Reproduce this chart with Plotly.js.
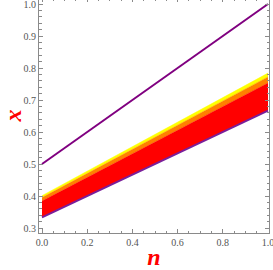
<!DOCTYPE html>
<html>
<head>
<script src="https://cdn.plot.ly/plotly-3.0.1.min.js"></script>
<style>
html,body{margin:0;padding:0;overflow:hidden;background:#fff;}
#chart{position:absolute;left:0;top:-2px;width:273px;height:272px;}
</style>
</head>
<body>
<div id="chart"></div>
<script>
const nVals      = [0, 0.25, 0.5, 0.75, 1.0];
const upperLine  = [0.5, 0.625, 0.75, 0.875, 1.0];
const lowerLine  = [0.333, 0.417, 0.5, 0.583, 0.667];
const redTop     = [0.384, 0.476, 0.568, 0.661, 0.753];
const orangeTop  = [0.395, 0.489, 0.583, 0.678, 0.772];
const yellowTop  = [0.401, 0.497, 0.593, 0.689, 0.784];
const xTickVals  = [0, 0.2, 0.4, 0.6, 0.8, 1.0];
const yTickVals  = [0.3, 0.4, 0.5, 0.6, 0.7, 0.8, 0.9, 1.0];

const traces = [
  {x:nVals, y:lowerLine, mode:'lines', line:{color:'#7a1f9a', width:0}, hoverinfo:'skip'},
  {x:nVals, y:redTop, mode:'lines', fill:'tonexty', fillcolor:'#ff0000', line:{color:'#ff0000', width:0.5}},
  {x:nVals, y:orangeTop, mode:'lines', fill:'tonexty', fillcolor:'#ff8000', line:{color:'#ff8000', width:0.5}},
  {x:nVals, y:yellowTop, mode:'lines', fill:'tonexty', fillcolor:'#ffff00', line:{color:'#ffff00', width:0.5}},
  {x:nVals, y:lowerLine, mode:'lines', line:{color:'#7a1f9a', width:2}},
  {x:nVals, y:upperLine, mode:'lines', line:{color:'#800080', width:2}}
];

const axisCommon = {
  showgrid:false, zeroline:false, showline:true, linecolor:'#8a8a8a', linewidth:1,
  mirror:'allticks', ticks:'inside', ticklen:4, tickcolor:'#8a8a8a', tickwidth:1,
  tickfont:{family:'Liberation Serif, Times New Roman, serif', size:10, color:'#555'},
  tickformat:'.1f', tickmode:'array', automargin:false, ticklabeloverflow:'allow'
};

const layout = {
  width:273, height:272,
  margin:{l:39, r:4, t:0, b:37},
  paper_bgcolor:'#fff', plot_bgcolor:'#fff',
  showlegend:false,
  xaxis:Object.assign({}, axisCommon, {
    range:[-0.0133, 1.0044], tickvals:xTickVals,
    minor:{dtick:0.05, ticks:'inside', ticklen:2.5, tickcolor:'#8a8a8a', showgrid:false},
    title:{text:'<b><i>n</i></b>', font:{family:'Liberation Serif, Times New Roman, serif', size:24, color:'#ff0000'}, standoff:3}
  }),
  yaxis:Object.assign({}, axisCommon, {
    range:[0.284375, 1.01875], tickvals:yTickVals,
    minor:{dtick:0.02, ticks:'inside', ticklen:2.5, tickcolor:'#8a8a8a', showgrid:false},
    title:{text:'<b><i>x</i></b>', font:{family:'Liberation Serif, Times New Roman, serif', size:24, color:'#ff0000'}, standoff:8}
  })
};

Plotly.newPlot('chart', traces, layout, {staticPlot:true, displayModeBar:false});
</script>
</body>
</html>
